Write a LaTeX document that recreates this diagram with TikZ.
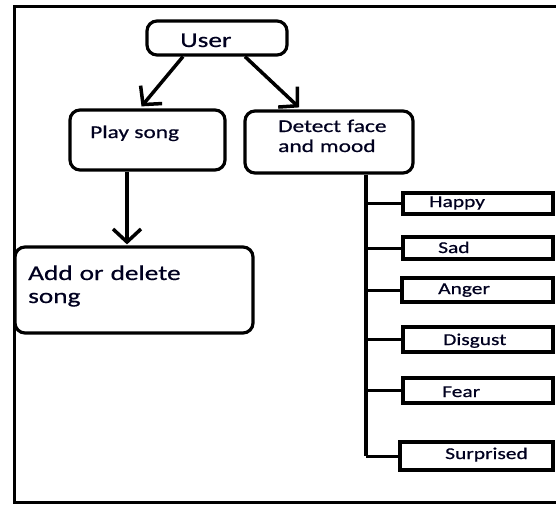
\documentclass[tikz,border=0pt]{standalone}
\usepackage{fontspec}
\setmainfont{Carlito}[FakeStretch=1.3,FakeBold=0.6]
\usetikzlibrary{arrows.meta,calc}

\begin{document}
\begin{tikzpicture}[x=1pt,y=-1pt,
  rbox/.style={draw, line width=3.2pt, rounded corners=10pt, inner sep=0, fill=white},
  ebox/.style={draw, line width=4pt, inner sep=0, fill=white},
  txt/.style={inner sep=0, anchor=base west, text=black!88!blue},
  flow/.style={line width=3.5pt, -{Straight Barb[length=13pt,width=28pt]}},
  link/.style={line width=3pt}]

\useasboundingbox (0,0) rectangle (556,504);

% outer frame (right side runs off the page)
\draw[line width=3pt] (562,6) -| (14,502) -- (562,502);

% rounded process boxes
\node[rbox, minimum width=140, minimum height=34] (user)   at (217,38)    {};
\node[rbox, minimum width=155, minimum height=60] (play)   at (147.5,140) {};
\node[rbox, minimum width=168, minimum height=62] (detect) at (329,142)   {};
\node[rbox, minimum width=238, minimum height=86] (add)    at (134,290)   {};

% mood boxes
\node[ebox, minimum width=150, minimum height=21] (happy)     at (478,203.5)   {};
\node[ebox, minimum width=150, minimum height=22] (sad)       at (478,248)     {};
\node[ebox, minimum width=151, minimum height=24] (anger)     at (477.5,290)   {};
\node[ebox, minimum width=150, minimum height=25] (disgust)   at (478,339.5)   {};
\node[ebox, minimum width=150, minimum height=25] (fear)      at (478,390.5)   {};
\node[ebox, minimum width=153, minimum height=28] (surprised) at (476.5,456)   {};

% labels
\node[txt, font=\fontsize{21}{24}\selectfont] (usert) at (180,47) {User};
\node[txt, font=\fontsize{18}{20}\selectfont] (playt) at (90,138) {Play song};
\node[txt, font=\fontsize{18}{20}\selectfont, text width=130pt, align=left] (detectt) at (278,132) {Detect face\\and mood};
\node[txt, font=\fontsize{21}{23}\selectfont, text width=200pt, align=left] (addt) at (28,280) {Add or delete\\song};
\node[txt, font=\fontsize{16.5}{18}\selectfont] (happyt)     at (429,207) {Happy};
\node[txt, font=\fontsize{16.5}{18}\selectfont] (sadt)       at (438,253) {Sad};
\node[txt, font=\fontsize{16.5}{18}\selectfont] (angert)     at (438,294) {Anger};
\node[txt, font=\fontsize{16.5}{18}\selectfont] (disgustt)   at (443,345) {Disgust};
\node[txt, font=\fontsize{16.5}{18}\selectfont] (feart)      at (442,397) {Fear};
\node[txt, font=\fontsize{16.5}{18}\selectfont] (surprisedt) at (445,459) {Surprised};

% arrows
\draw[flow] ($(user.south)+(-34,0)$) -- ($(play.north)+(-6,-2)$);
\draw[flow] ($(user.south)+(28,0)$) -- ($(detect.north)+(-30,-2)$);
\draw[flow] ($(play.south)+(-20.5,0)$) -- ($(add.north)+(-7,-1)$);

% mood tree
\coordinate (trunktop) at ($(detect.south)+(37,0)$);
\draw[link, line width=4pt] (trunktop) -- (trunktop |- surprised.west);
\foreach \m in {happy,sad,anger,disgust,fear,surprised}
  \draw[link] (trunktop |- \m.west) -- (\m.west);
\end{tikzpicture}
\end{document}
